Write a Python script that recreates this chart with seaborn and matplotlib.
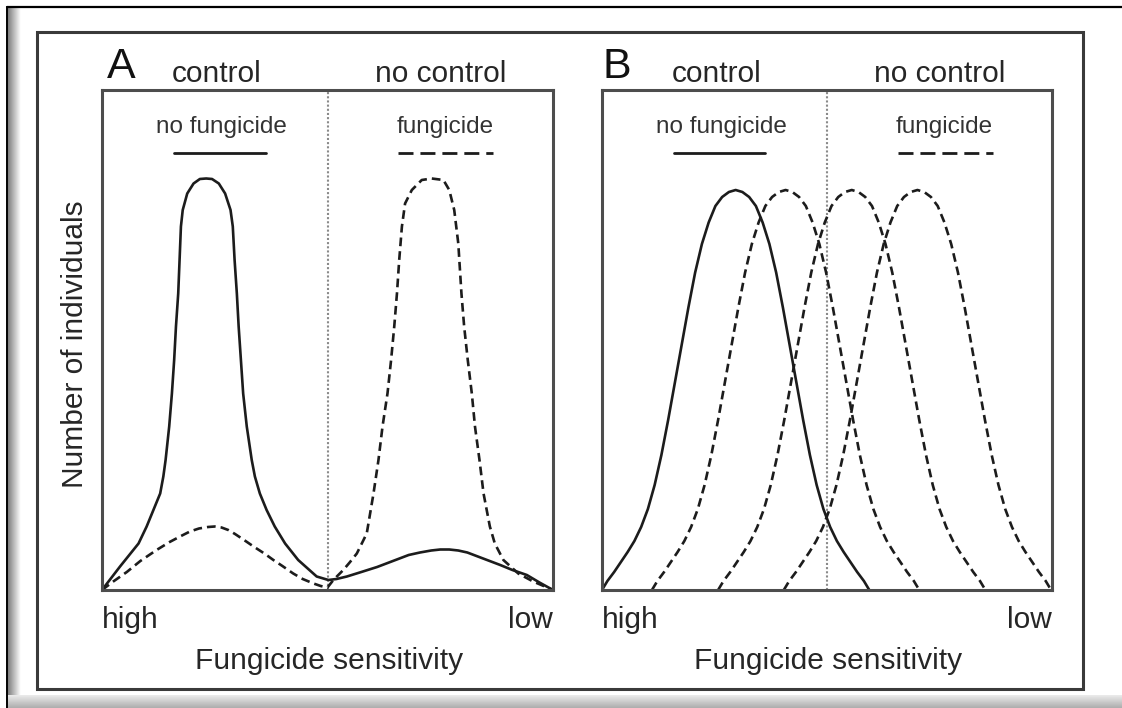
# -*- coding: utf-8 -*-
"""
Esquema: distribuicao da sensibilidade a fungicida na populacao
(A) controle x sem controle, (B) deslocamento gradual das curvas.
"""

import numpy as np
import matplotlib

matplotlib.use("Agg")
import matplotlib.pyplot as plt
from matplotlib.lines import Line2D
from matplotlib.patches import Rectangle
import seaborn as sns

# =========================================================
# DADOS (eixo x e y de 0 a 100)
# =========================================================
# --- Painel A: sem fungicida (linha cheia) ---
A_SEM_X = [0, 4.0, 8.1, 9.9, 11.4, 12.9, 13.6, 14.1, 14.9, 15.5, 16.0, 16.4,
           16.9, 17.2, 17.5, 17.9, 18.9, 20.3, 21.7, 23.1, 24.4, 25.9, 27.3,
           28.5, 29.0, 29.4, 29.9, 30.3, 30.8, 31.3, 32.1, 33.2, 33.9, 35.0,
           36.5, 38.3, 40.6, 43.5, 47.6, 50.2, 52.0, 54.3, 57.5, 61.0, 64.5,
           68.0, 70.5, 73.0, 75.0, 77.0, 79.0, 81.0, 84.5, 88.3, 91.0, 94.2,
           97.0, 100]
A_SEM_Y = [0, 4.7, 9.3, 12.7, 16.0, 19.3, 22.7, 26.0, 32.7, 39.3, 46.0, 52.7,
           59.3, 66.0, 72.7, 76.0, 79.3, 81.3, 82.2, 82.3, 82.2, 81.3, 79.3,
           76.0, 72.7, 66.0, 59.3, 52.7, 46.0, 39.3, 32.7, 26.0, 22.7, 19.3,
           16.0, 12.7, 9.3, 6.0, 2.7, 2.0, 2.2, 2.7, 3.6, 4.6, 5.8,
           7.0, 7.5, 7.9, 8.1, 8.1, 7.9, 7.5, 6.3, 5.0, 4.0, 3.0,
           1.5, 0]

# --- Painel A: com fungicida (tracejada) ---
A_COM_X = [0, 2.5, 5.5, 8.5, 12.1, 15.0, 17.3, 19.5, 21.5, 23.5, 25.0, 26.5,
           28.0, 29.5, 31.5, 33.6, 36.0, 38.0, 40.0, 42.4, 44.5, 46.9, 48.5,
           50.0, 51.3, 53.5, 55.0, 56.5, 58.7, 60.2, 61.3, 62.2, 63.3, 64.1,
           64.8, 65.4, 65.9, 66.5, 67.2, 68.7, 70.9, 73.1, 75.7, 77.0, 78.1,
           79.0, 79.7, 80.3, 81.1, 82.0, 82.7, 83.7, 84.6, 86.0, 87.1, 89.0,
           92.3, 95.6, 100]
A_COM_Y = [0, 1.7, 3.6, 5.8, 8.0, 9.6, 10.7, 11.7, 12.3, 12.6, 12.7, 12.5,
           12.0, 11.2, 10.0, 8.7, 7.3, 6.0, 4.8, 3.3, 2.2, 1.3, 0.8,
           0.5, 2.0, 4.0, 5.6, 7.3, 11.3, 19.3, 26.0, 32.7, 39.3, 46.0,
           52.7, 59.3, 66.0, 72.7, 77.3, 80.0, 82.0, 82.3, 82.0, 80.0, 76.0,
           69.3, 59.3, 52.7, 46.0, 39.3, 32.7, 26.0, 19.3, 12.7, 9.3, 6.0,
           3.3, 1.7, 0]

# --- Painel B: alturas comuns das curvas (mesma forma, deslocada) ---
B_ALTURA = [0, 1.8, 3.6, 5.6, 7.6, 9.8, 12.6, 16.2, 21.0, 27.0, 34.0, 41.5,
            49.0, 56.5, 63.5, 69.2, 73.5, 76.8, 78.6, 79.6, 80.0, 79.6, 78.6,
            76.8, 73.5, 69.2, 63.5, 56.5, 49.0, 41.5, 34.0, 27.0, 21.0, 16.2,
            12.6, 9.8, 7.6, 5.6, 3.6, 1.8, 0]
B_SEM_X = [0, 1.2, 2.7, 4.2, 5.7, 7.2, 8.7, 10.2, 11.7, 13.2, 14.7, 16.2,
           17.7, 19.2, 20.7, 22.2, 23.7, 25.2, 26.7, 28.2, 29.7, 31.2, 32.7,
           34.2, 35.7, 37.2, 38.7, 40.2, 41.7, 43.2, 44.7, 46.2, 47.7, 49.2,
           50.7, 52.2, 53.7, 55.2, 56.7, 58.2, 59.4]
B_COM1_X = [11.1, 12.3, 13.8, 15.3, 16.8, 18.3, 19.8, 21.3, 22.8, 24.3, 25.8,
            27.3, 28.8, 30.3, 31.8, 33.3, 34.8, 36.3, 37.8, 39.3, 40.8, 42.3,
            43.8, 45.3, 46.8, 48.3, 49.8, 51.3, 52.8, 54.3, 55.8, 57.3, 58.8,
            60.3, 61.8, 63.3, 64.8, 66.3, 67.8, 69.3, 70.5]
B_COM2_X = [25.8, 27.0, 28.5, 30.0, 31.5, 33.0, 34.5, 36.0, 37.5, 39.0, 40.5,
            42.0, 43.5, 45.0, 46.5, 48.0, 49.5, 51.0, 52.5, 54.0, 55.5, 57.0,
            58.5, 60.0, 61.5, 63.0, 64.5, 66.0, 67.5, 69.0, 70.5, 72.0, 73.5,
            75.0, 76.5, 78.0, 79.5, 81.0, 82.5, 84.0, 85.2]
B_COM3_X = [40.4, 41.6, 43.1, 44.6, 46.1, 47.6, 49.1, 50.6, 52.1, 53.6, 55.1,
            56.6, 58.1, 59.6, 61.1, 62.6, 64.1, 65.6, 67.1, 68.6, 70.1, 71.6,
            73.1, 74.6, 76.1, 77.6, 79.1, 80.6, 82.1, 83.6, 85.1, 86.6, 88.1,
            89.6, 91.1, 92.6, 94.1, 95.6, 97.1, 98.6, 99.8]

# --- Textos ---
PAINEIS = ["A", "B"]
ROTULO_X = "Fungicide sensitivity"
ROTULO_Y = "Number of individuals"
EXTREMOS = ["high", "low"]

COR_LINHA = "#1c1c1c"
COR_TEXTO = "#262626"
TRACO_CURVA = (0, (3.3, 1.9))
TRACO_LEGENDA = (0, (5.4, 2.5))
ESPESSURA = 1.9


def decorar_painel(ax, letra, dx_letra):
    """Cabecalhos, chaves de legenda, linha pontilhada e eixos."""
    ax.axvline(50, color="#8a8a8a", lw=1.5, linestyle=(0, (1, 1)), zorder=1)

    ax.text(dx_letra, 1.025, letra, transform=ax.transAxes, fontsize=31,
            ha="left", va="baseline", color="#111111")
    ax.text(0.255, 1.015, "control", transform=ax.transAxes, fontsize=21.5,
            ha="center", va="baseline", color=COR_TEXTO)
    ax.text(0.75, 1.015, "no control", transform=ax.transAxes, fontsize=21.5,
            ha="center", va="baseline", color=COR_TEXTO)
    ax.text(0.265, 0.914, "no fungicide", transform=ax.transAxes,
            fontsize=17.5, ha="center", va="baseline", color="#333333")
    ax.text(0.76, 0.914, "fungicide", transform=ax.transAxes,
            fontsize=17.5, ha="center", va="baseline", color="#333333")

    ax.add_line(Line2D([0.16, 0.363], [0.874, 0.874], transform=ax.transAxes,
                       color=COR_LINHA, lw=2.0))
    ax.add_line(Line2D([0.657, 0.868], [0.874, 0.874], transform=ax.transAxes,
                       color=COR_LINHA, lw=2.0, linestyle=TRACO_LEGENDA))

    ax.set_xlim(0, 100)
    ax.set_ylim(0, 100)
    ax.set_yticks([])
    ax.set_xticks([0, 100], EXTREMOS)
    rot = ax.get_xticklabels()
    rot[0].set_ha("left")
    rot[1].set_ha("right")
    ax.tick_params(axis="x", length=0, pad=11.5, labelsize=21.5,
                   labelcolor=COR_TEXTO)

    ax.set_xlabel(ROTULO_X, fontsize=21.5, color=COR_TEXTO)
    ax.xaxis.set_label_coords(0.503, -0.114)
    ax.set_ylabel("")
    for lado in ax.spines.values():
        lado.set_color("#4d4d4d")
        lado.set_linewidth(2.2)


def moldura(fig):
    """Moldura externa com sombra, como no recorte original."""
    bg = fig.add_axes([0, 0, 1, 1], zorder=-1)
    grad_h = np.linspace(0.5, 1.0, 30).reshape(1, -1)
    bg.imshow(grad_h, extent=(8, 21, 708, 8), aspect="auto", cmap="gray",
              vmin=0, vmax=1)
    grad_v = np.linspace(0.92, 0.68, 20).reshape(-1, 1)
    bg.imshow(grad_v, extent=(8, 1122, 708, 695), aspect="auto", cmap="gray",
              vmin=0, vmax=1)
    bg.plot([7, 1122], [7, 7], color="black", lw=1.6)
    bg.plot([7, 7], [7, 708], color="black", lw=1.4)
    bg.add_patch(Rectangle((37, 32), 1046, 657, fill=False,
                           ec="#3a3a3a", lw=2.2))
    bg.set_xlim(0, 1122)
    bg.set_ylim(708, 0)
    bg.axis("off")


def main():
    sns.set_theme(style="white")
    plt.rcParams["font.family"] = ["Liberation Sans", "DejaVu Sans"]

    fig = plt.figure(figsize=(11.22, 7.08), dpi=100)
    moldura(fig)

    ax_a = fig.add_axes([102 / 1122, 118 / 708, 451 / 1122, 500 / 708])
    ax_b = fig.add_axes([602 / 1122, 118 / 708, 450 / 1122, 500 / 708])

    # Painel A
    sns.lineplot(x=A_SEM_X, y=A_SEM_Y, ax=ax_a, color=COR_LINHA, lw=ESPESSURA,
                 estimator=None, sort=False)
    sns.lineplot(x=A_COM_X, y=A_COM_Y, ax=ax_a, color=COR_LINHA, lw=ESPESSURA,
                 linestyle=TRACO_CURVA, estimator=None, sort=False)

    # Painel B
    sns.lineplot(x=B_SEM_X, y=B_ALTURA, ax=ax_b, color=COR_LINHA, lw=ESPESSURA,
                 estimator=None, sort=False)
    for xs in [B_COM1_X, B_COM2_X, B_COM3_X]:
        sns.lineplot(x=xs, y=B_ALTURA, ax=ax_b, color=COR_LINHA, lw=ESPESSURA,
                     linestyle=TRACO_CURVA, estimator=None, sort=False)

    decorar_painel(ax_a, PAINEIS[0], 0.012)
    decorar_painel(ax_b, PAINEIS[1], 0.002)

    ax_a.set_ylabel(ROTULO_Y, fontsize=21.5, color=COR_TEXTO, va="baseline")
    ax_a.yaxis.set_label_coords(-0.042, 0.492)

    fig.savefig("out.png", dpi=100)
    plt.close(fig)


if __name__ == "__main__":
    main()
